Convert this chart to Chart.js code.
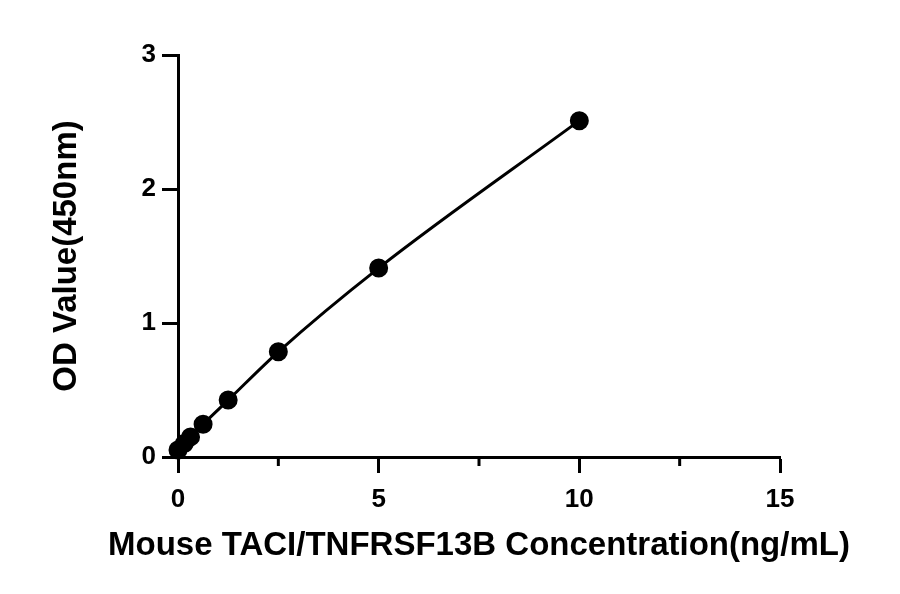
<!DOCTYPE html>
<html>
<head>
<meta charset="utf-8">
<script src="https://cdn.jsdelivr.net/npm/chart.js@4"></script>
<style>
html,body{margin:0;padding:0;background:#fff;}
#wrap{width:900px;height:594px;}
</style>
</head>
<body>
<div id="wrap"><canvas id="c" width="900" height="594"></canvas></div>
<script>
const concentrations = [0, 0.156, 0.3125, 0.625, 1.25, 2.5, 5, 10];
const odValues = [0.052, 0.10, 0.15, 0.245, 0.425, 0.785, 1.41, 2.51];
const xTicks = [0, 5, 10, 15];
const xMinorTicks = [2.5, 7.5, 12.5];
const yTicks = [0, 1, 2, 3];
const xTitle = 'Mouse TACI/TNFRSF13B Concentration(ng/mL)';
const yTitle = 'OD Value(450nm)';

const FONT = "'Liberation Sans', Arial, sans-serif";

const extrasPlugin = {
  id: 'extras',
  afterDraw(chart) {
    const xs = chart.scales.x;
    const ctx = chart.ctx;
    const y0 = chart.chartArea.bottom;
    ctx.save();
    ctx.strokeStyle = '#000';
    ctx.lineWidth = 3;
    xMinorTicks.forEach(v => {
      const px = xs.getPixelForValue(v);
      ctx.beginPath();
      ctx.moveTo(px, y0);
      ctx.lineTo(px, y0 + 9);
      ctx.stroke();
    });
    // x axis title (drawn without width limit)
    ctx.fillStyle = '#000';
    ctx.font = "bold 33px " + FONT;
    ctx.textAlign = 'center';
    ctx.textBaseline = 'middle';
    ctx.fillText(xTitle, (chart.chartArea.left + chart.chartArea.right) / 2, y0 + 89);
    ctx.restore();
  }
};

new Chart(document.getElementById('c'), {
  type: 'scatter',
  data: {
    datasets: [{
      data: concentrations.map((x, i) => ({x: x, y: odValues[i]})),
      showLine: true,
      cubicInterpolationMode: 'monotone',
      borderColor: '#000',
      backgroundColor: '#000',
      borderWidth: 3,
      pointRadius: 8,
      pointHoverRadius: 8,
      clip: false
    }]
  },
  options: {
    responsive: false,
    animation: false,
    devicePixelRatio: 1,
    layout: { padding: { top: 55, right: 120, left: 0, bottom: 0 } },
    plugins: { legend: { display: false }, tooltip: { enabled: false } },
    scales: {
      x: {
        type: 'linear',
        min: 0, max: 15,
        afterBuildTicks: s => { s.ticks = xTicks.map(v => ({value: v})); },
        afterFit: s => { s.height = 137; },
        border: { display: true, color: '#000', width: 3 },
        grid: { drawOnChartArea: false, drawTicks: true, tickLength: 16, tickWidth: 3, tickColor: '#000' },
        ticks: { color: '#000', padding: 11, font: { family: FONT, size: 26, weight: 'bold' } },
        title: { display: false }
      },
      y: {
        type: 'linear',
        min: 0, max: 3,
        afterBuildTicks: s => { s.ticks = yTicks.map(v => ({value: v})); },
        afterFit: s => { s.width = 178; },
        border: { display: true, color: '#000', width: 3 },
        grid: { drawOnChartArea: false, drawTicks: true, tickLength: 16, tickWidth: 3, tickColor: '#000' },
        ticks: { color: '#000', padding: 6, font: { family: FONT, size: 26, weight: 'bold' } },
        title: { display: true, text: yTitle, color: '#000', padding: { top: 47, bottom: 0 }, font: { family: FONT, size: 33, weight: 'bold' } }
      }
    }
  },
  plugins: [extrasPlugin]
});
</script>
</body>
</html>
